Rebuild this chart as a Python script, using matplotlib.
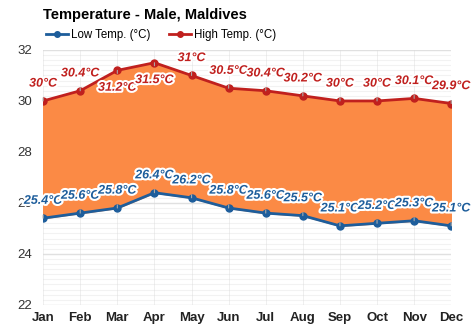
import matplotlib.pyplot as plt
import matplotlib.patheffects as pe
import numpy as np

plt.rcParams['font.family'] = ['Liberation Sans', 'DejaVu Sans']

months = ['Jan', 'Feb', 'Mar', 'Apr', 'May', 'Jun', 'Jul', 'Aug', 'Sep', 'Oct', 'Nov', 'Dec']
low = [25.4, 25.6, 25.8, 26.4, 26.2, 25.8, 25.6, 25.5, 25.1, 25.2, 25.3, 25.1]
high = [30, 30.4, 31.2, 31.5, 31, 30.5, 30.4, 30.2, 30, 30, 30.1, 29.9]
high_labels = ['30°C', '30.4°C', '31.2°C', '31.5°C', '31°C', '30.5°C', '30.4°C',
               '30.2°C', '30°C', '30°C', '30.1°C', '29.9°C']
low_labels = ['25.4°C', '25.6°C', '25.8°C', '26.4°C', '26.2°C', '25.8°C', '25.6°C',
              '25.5°C', '25.1°C', '25.2°C', '25.3°C', '25.1°C']
# which high labels sit under the point
high_below = [False, False, True, True, False, False, False, False, False, False, False, False]

red = '#c0201e'
blue = '#1d5d9b'
orange = '#fb8a45'

fig = plt.figure(figsize=(4.74, 3.31), dpi=100)
ax = fig.add_axes([0.091, 0.079, 0.861, 0.770])
x = np.arange(len(months))

# grid lines
for v in np.arange(22, 32.01, 0.2):
    major = abs(v - round(v / 2) * 2) < 1e-6
    ax.axhline(v, color='#e0e0e0' if major else '#f2f2f2', lw=1.0 if major else 0.8, zorder=0)
for xi in x:
    ax.axvline(xi, color='#d9d9d9', lw=0.6, alpha=0.5, zorder=0)

ax.fill_between(x, low, high, color=orange, zorder=1)
ax.plot(x, high, color=red, lw=2, marker='o', ms=5, zorder=3)
ax.plot(x, low, color=blue, lw=2, marker='o', ms=5, zorder=3)

stroke = [pe.withStroke(linewidth=3, foreground='white')]
for i in x:
    off = -12.5 if high_below[i] else 12.5
    ax.annotate(high_labels[i], (i, high[i]), xytext=(0, off), textcoords='offset points',
                ha='center', va='center', color=red, fontsize=9, fontweight='bold',
                style='italic', path_effects=stroke, zorder=5,
                arrowprops=dict(arrowstyle='-', color='#aaaaaa', lw=0.8, shrinkA=4, shrinkB=0))
    ax.annotate(low_labels[i], (i, low[i]), xytext=(0, 12.5), textcoords='offset points',
                ha='center', va='center', color=blue, fontsize=9, fontweight='bold',
                style='italic', path_effects=stroke, zorder=5,
                arrowprops=dict(arrowstyle='-', color='#aaaaaa', lw=0.8, shrinkA=4, shrinkB=0))

ax.set_xlim(0, 11)
ax.set_ylim(22, 32)
ax.set_yticks([22, 24, 26, 28, 30, 32])
ax.set_xticks(x)
ax.set_xticklabels(months, fontweight='bold', fontsize=9.5)
ax.tick_params(axis='y', labelsize=9.5, colors='#333333', length=0, pad=8)
ax.tick_params(axis='x', length=0, pad=5, colors='#222222')
for s in ax.spines.values():
    s.set_visible(False)

fig.text(0.091, 0.955, 'Temperature - Male, Maldives', fontsize=10.5, fontweight='bold',
         ha='left', va='center')
# legend
ax.plot([], [], color=blue, lw=2, marker='o', ms=4, label='Low Temp. (°C)')
ax.plot([], [], color=red, lw=2, marker='o', ms=4, label='High Temp. (°C)')
fig.legend(loc='center left', bbox_to_anchor=(0.075, 0.893), ncol=2, frameon=False,
           fontsize=8.3, handlelength=1.9, handletextpad=0.3, columnspacing=1.6)

fig.savefig('out.png', dpi=100)
